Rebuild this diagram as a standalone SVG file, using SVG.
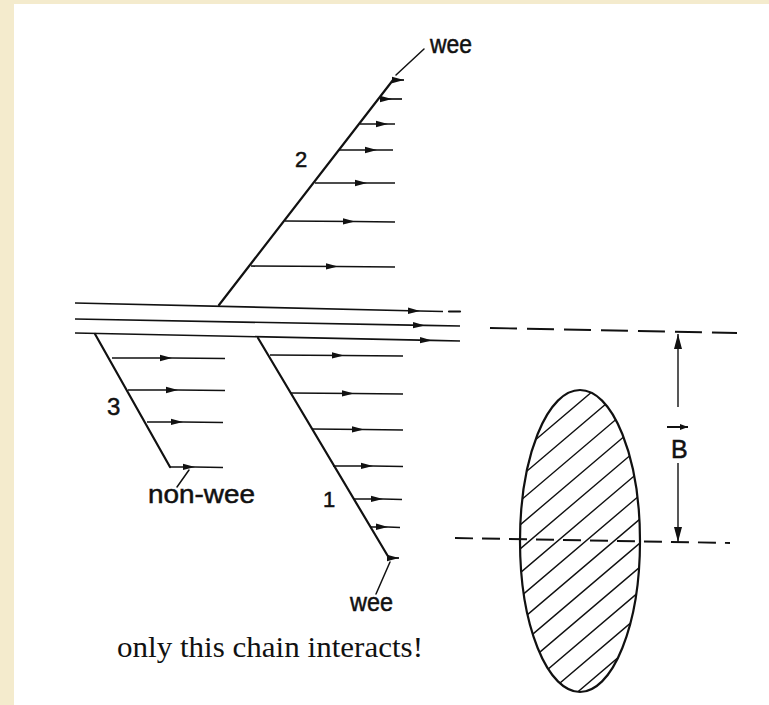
<svg xmlns="http://www.w3.org/2000/svg" width="769" height="705" viewBox="0 0 769 705">
<style>
.ln{fill:none;stroke:#111;stroke-width:2.2;stroke-linecap:round}
.ar{fill:none;stroke:#111;stroke-width:1.7;marker-mid:url(#ah)}
.ae{fill:none;stroke:#111;stroke-width:1.7;marker-end:url(#ah)}
.ds{fill:none;stroke:#111;stroke-width:1.9}
.lbl{font-family:"Liberation Sans",Arial,sans-serif;fill:#111;stroke:#111;stroke-width:0.5}
.hatch{fill:none;stroke:#111;stroke-width:1.4}
</style>
<defs>
<marker id="ah" markerUnits="userSpaceOnUse" markerWidth="12" markerHeight="8" viewBox="0 0 12 8" refX="12" refY="4" orient="auto"><path d="M0,0.8 L12,4 L0,7.2 Z" fill="#111"/></marker>
<marker id="dh" markerUnits="userSpaceOnUse" markerWidth="15" markerHeight="9" viewBox="0 0 15 9" refX="15" refY="4.5" orient="auto-start-reverse"><path d="M0,0.5 L15,4.5 L0,8.5 Z" fill="#111"/></marker>
<marker id="bh" markerUnits="userSpaceOnUse" markerWidth="8" markerHeight="6" viewBox="0 0 8 6" refX="8" refY="3" orient="auto"><path d="M0,0 L8,3 L0,6 Z" fill="#111"/></marker>
<clipPath id="ec"><ellipse cx="580" cy="541" rx="60" ry="151"/></clipPath>
</defs>
<rect x="0" y="0" width="769" height="705" fill="#f4ebcd"/>
<rect x="14" y="4" width="755" height="701" fill="#ffffff"/>

<g id="connectors">
<g id="strands">
<path class="ar" d="M75,303 L420,311 L443,311.5"/>
<path class="ln" d="M449,311.5 L460,311.5"/>
<path class="ar" d="M75,319 L425,325.4 L460,326"/>
<path class="ar" d="M75,333 L432,340.4 L460,341"/>
</g>
</g>

<g id="chain2">
<path class="ln" d="M219,305 L393,80"/>
<path class="ae" d="M392,80 L404,80"/>
<path class="ar" d="M380,99 L392,99 L402,99"/>
<path class="ar" d="M360,124 L388,124 L395,124"/>
<path class="ar" d="M339,150 L377,150 L393,150"/>
<path class="ar" d="M315,183 L367,183 L395,183"/>
<path class="ar" d="M285,221 L355,221.5 L395,222"/>
<path class="ar" d="M251,266 L338,266.5 L395,267"/>
<path class="ln" d="M396,75 L424,49" style="stroke-width:1.5"/>
<text class="lbl" x="430" y="53" font-size="25" textLength="42" lengthAdjust="spacingAndGlyphs">wee</text>
<text class="lbl" x="295" y="167" font-size="22">2</text>
</g>

<g id="chain3">
<path class="ln" d="M95,334 L170,467"/>
<path class="ar" d="M112,358 L172,358 L225,358.5"/>
<path class="ar" d="M128,390 L178,390 L225,390.5"/>
<path class="ar" d="M147,422 L183,422 L223,422.5"/>
<path class="ar" d="M170,467 L195,467 L223,467.5"/>
<path class="ln" d="M189,470 L177,487" style="stroke-width:1.5"/>
<text class="lbl" x="107" y="415" font-size="24">3</text>
<text class="lbl" x="148" y="503" font-size="26" textLength="107" lengthAdjust="spacingAndGlyphs">non-wee</text>
</g>

<g id="chain1">
<path class="ln" d="M258,338 L389,558"/>
<path class="ar" d="M270,355 L344,355.5 L403,356"/>
<path class="ar" d="M290,393 L354,393.5 L403,394"/>
<path class="ar" d="M312,429 L364,429.5 L403,430"/>
<path class="ar" d="M333,466 L373,466 L403,466.5"/>
<path class="ar" d="M353,499 L383,499 L402,499.5"/>
<path class="ar" d="M370,527 L388,527 L400,527.5"/>
<path class="ae" d="M388,558 L399,558"/>
<path class="ln" d="M390,562 L376,594" style="stroke-width:1.5"/>
<text class="lbl" x="323" y="507" font-size="22">1</text>
<text class="lbl" x="350" y="611" font-size="25" textLength="43" lengthAdjust="spacingAndGlyphs">wee</text>
</g>

<g id="target">
<g clip-path="url(#ec)">
<path class="hatch" d="M500,470 L660,334 M500,494 L660,358 M500,518 L660,382 M500,542 L660,406 M500,566 L660,430 M500,590 L660,454 M500,614 L660,478 M500,638 L660,502 M500,662 L660,526 M500,686 L660,550 M500,710 L660,574 M500,734 L660,598 M500,758 L660,622 M500,782 L660,646"/>
</g>
<ellipse cx="580" cy="541" rx="60" ry="151" fill="none" stroke="#111" stroke-width="2.2"/>
</g>

<g id="dimension">
<path class="ds" d="M490,328 L737,333" stroke-dasharray="27 10"/>
<path class="ds" d="M455,538 L730,543" stroke-dasharray="18 9"/>
<path d="M678,407 L678,334" fill="none" stroke="#111" stroke-width="1.4" marker-end="url(#dh)"/>
<path d="M678,463 L678,542" fill="none" stroke="#111" stroke-width="1.4" marker-end="url(#dh)"/>
<path d="M667,427 L688,427" fill="none" stroke="#111" stroke-width="2" marker-end="url(#bh)"/>
<text class="lbl" x="671" y="458" font-size="25">B</text>
</g>

<text x="117" y="657" font-family="'Liberation Serif','Times New Roman',serif" font-size="29" fill="#111" textLength="306" lengthAdjust="spacingAndGlyphs">only this chain interacts!</text>
</svg>
